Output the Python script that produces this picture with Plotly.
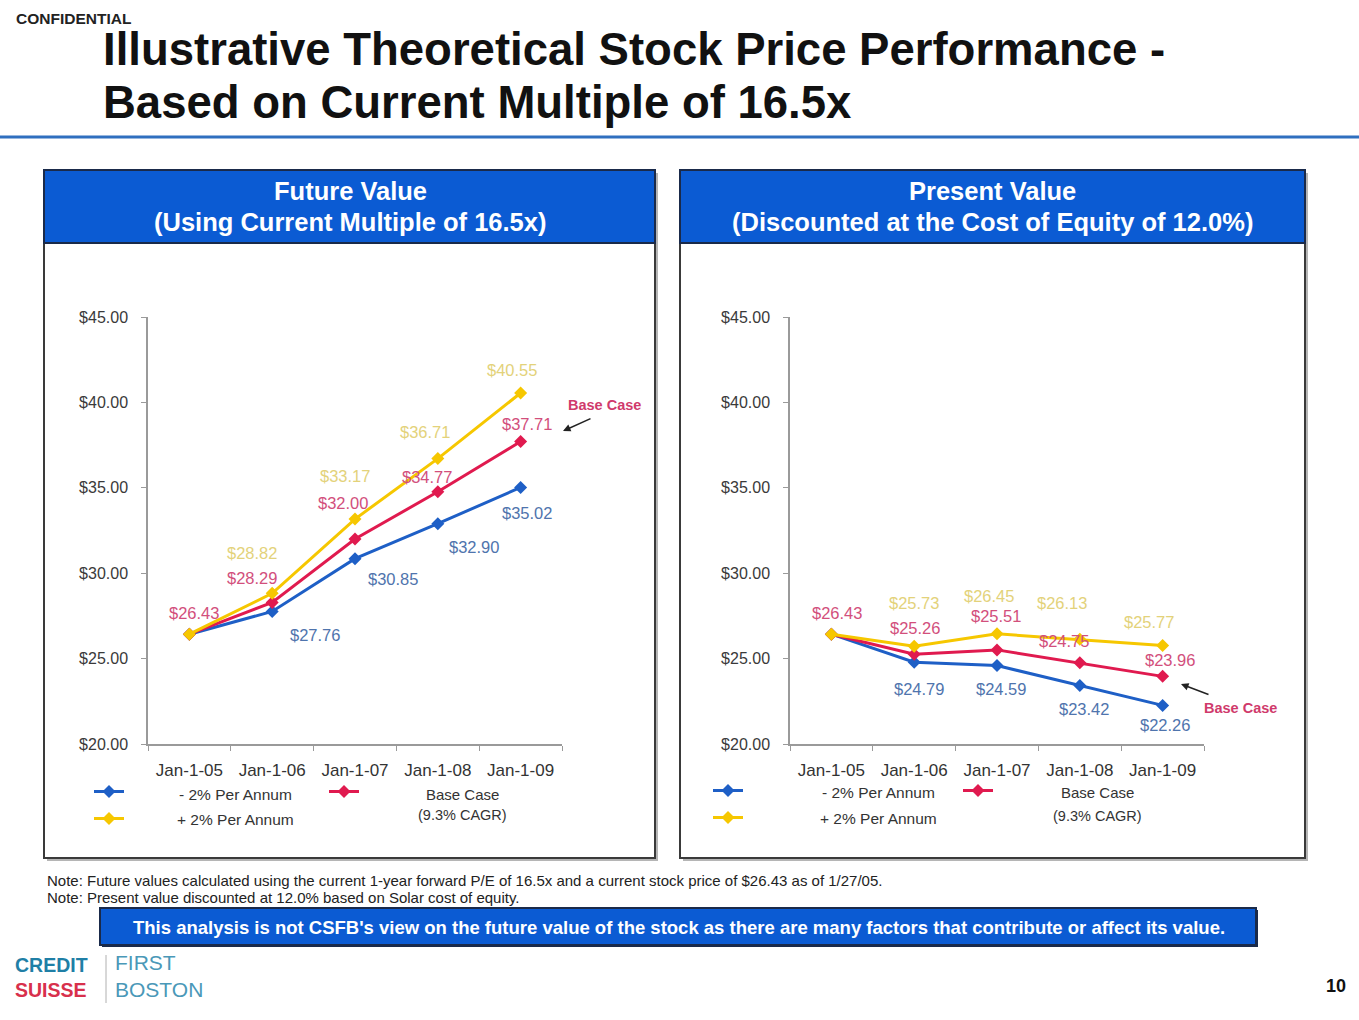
import plotly.graph_objects as go

W, H = 1359, 1020

# ---------------- data ----------------
dates = ["Jan-1-05", "Jan-1-06", "Jan-1-07", "Jan-1-08", "Jan-1-09"]

fv_minus2 = [26.43, 27.76, 30.85, 32.90, 35.02]
fv_base = [26.43, 28.29, 32.00, 34.77, 37.71]
fv_plus2 = [26.43, 28.82, 33.17, 36.71, 40.55]

pv_minus2 = [26.43, 24.79, 24.59, 23.42, 22.26]
pv_base = [26.43, 25.26, 25.51, 24.75, 23.96]
pv_plus2 = [26.43, 25.73, 26.45, 26.13, 25.77]

series_names = ["- 2% Per Annum", "Base Case", "+ 2% Per Annum"]
y_ticks = [20, 25, 30, 35, 40, 45]
y_tick_text = [f"${v:.2f}" for v in y_ticks]

# label offsets (pixels, dx right, dy down) -- styling only; None = no label
fv_off = {
    "minus": [None, (43, 24), (38, 20), (36, 23), (6, 26)],
    "base": [(5, -21), (-20, -24), (-12, -36), (-11, -15), (6, -18)],
    "plus": [None, (-20, -40), (-10, -43), (-13, -27), (-9, -23)],
}
pv_off = {
    "minus": [None, (5, 27), (4, 23), (4, 23), (2, 20)],
    "base": [(6, -21), (1, -26), (-1, -34), (-16, -22), (7, -16)],
    "plus": [None, (0, -43), (-8, -38), (-18, -36), (-14, -23)],
}

LINE = {"minus": "#1e5fc6", "base": "#e01a4f", "plus": "#f6c700"}
LBL = {"minus": "#4f74ad", "base": "#d24f7c", "plus": "#e3d27a"}
FONT = "Arial, Liberation Sans, sans-serif"


def X(px):
    return px / W


def Y(py):
    return 1 - py / H


fig = go.Figure()

panels = [
    ("x", "y", fv_minus2, fv_base, fv_plus2, fv_off, ("legend", "legend2")),
    ("x2", "y2", pv_minus2, pv_base, pv_plus2, pv_off, ("legend3", "legend4")),
]

annotations = []
for xa, ya, mn, bs, pl, offs, legs in panels:
    for key, vals, name in (("minus", mn, series_names[0]),
                            ("base", bs, series_names[1]),
                            ("plus", pl, series_names[2])):
        leg = legs[1] if key == "base" else legs[0]
        fig.add_trace(go.Scatter(
            x=dates, y=vals, xaxis=xa, yaxis=ya, mode="lines+markers",
            name=" ", legend=leg, legendgroup=xa + key,
            line=dict(color=LINE[key], width=3),
            marker=dict(symbol="diamond", size=10, color=LINE[key]),
            hovertemplate=name + ": $%{y:.2f}<extra></extra>",
        ))
        for d, v, off in zip(dates, vals, offs[key]):
            if off is None:
                continue
            annotations.append(dict(
                x=d, y=v, xref=xa, yref=ya, text=f"${v:.2f}", showarrow=False,
                xshift=off[0], yshift=-off[1],
                font=dict(family=FONT, size=16.5, color=LBL[key]),
            ))

axis_common = dict(showline=True, linecolor="#9a9a9a", linewidth=1.5,
                   ticks="outside", tickcolor="#9a9a9a", ticklen=5,
                   showgrid=False, zeroline=False, fixedrange=True,
                   automargin=False)

yax = dict(axis_common, range=[20, 45], tickvals=y_ticks, ticktext=y_tick_text,
           domain=[Y(744), Y(317)], ticklabelstandoff=10,
           tickfont=dict(family=FONT, size=16, color="#3a3a3a"))
xax = dict(axis_common, type="category", tickson="boundaries",
           range=[-0.5, 4.5], ticklabelstandoff=10,
           tickfont=dict(family=FONT, size=17, color="#333333"))

fig.update_layout(
    width=W, height=H, margin=dict(l=0, r=0, t=0, b=0, pad=0, autoexpand=False),
    paper_bgcolor="white", plot_bgcolor="rgba(0,0,0,0)",
    xaxis=dict(xax, domain=[X(148), X(562)], anchor="y"),
    yaxis=dict(yax, anchor="x"),
    xaxis2=dict(xax, domain=[X(790), X(1204)], anchor="y2"),
    yaxis2=dict(yax, anchor="x2"),
)

legend_common = dict(bgcolor="rgba(0,0,0,0)", borderwidth=0, itemwidth=30,
                     traceorder="grouped", tracegroupgap=8,
                     font=dict(family=FONT, size=12), itemclick=False,
                     itemdoubleclick=False, xanchor="left", yanchor="top")
fig.update_layout(
    legend=dict(legend_common, x=X(89), y=Y(777)),
    legend2=dict(legend_common, x=X(324), y=Y(777)),
    legend3=dict(legend_common, x=X(708), y=Y(776)),
    legend4=dict(legend_common, x=X(958), y=Y(776)),
)

shapes = []


def prect(x0, y0, x1, y1, **kw):
    shapes.append(dict(type="rect", xref="paper", yref="paper",
                       x0=X(x0), x1=X(x1), y0=Y(y1), y1=Y(y0), layer="below", **kw))


HEADER_BLUE = "#0b5bd3"
# panels with shadow
for (x0, x1) in ((44, 655), (680, 1305)):
    prect(x0 + 3, 173, x1 + 3, 861, fillcolor="#b5b5b5", line=dict(width=0))
    prect(x0, 170, x1, 858, fillcolor="white", line=dict(color="#3a3a3a", width=2))
    prect(x0, 170, x1, 243, fillcolor=HEADER_BLUE, line=dict(color="#1a2a4a", width=2))

# title rule
shapes.append(dict(type="line", xref="paper", yref="paper", x0=0, x1=1,
                   y0=Y(137), y1=Y(137), line=dict(color="#2f6fbf", width=3)))
# bottom banner
prect(102, 910, 1258, 947, fillcolor="#1a2a4a", line=dict(width=0))
prect(100, 908, 1256, 945, fillcolor=HEADER_BLUE, line=dict(color="#1a2a4a", width=2))
# logo separator
shapes.append(dict(type="line", xref="paper", yref="paper", x0=X(106), x1=X(106),
                   y0=Y(1003), y1=Y(955), line=dict(color="#b0b0b0", width=1)))


def ptext(px, py, text, size, color="#000", bold=False, anchor="center", family=FONT):
    annotations.append(dict(
        xref="paper", yref="paper", x=X(px), y=Y(py), text=f"<b>{text}</b>" if bold else text,
        showarrow=False, xanchor=anchor, yanchor="middle",
        font=dict(family=family, size=size, color=color),
    ))


ptext(14, 18, "CONFIDENTIAL", 15.5, "#222", True, "left")
ptext(101, 49, "Illustrative Theoretical Stock Price Performance -", 45.5, "#111", True, "left")
ptext(101, 103, "Based on Current Multiple of 16.5x", 45.5, "#111", True, "left")

ptext(350, 191, "Future Value", 25.5, "white", True)
ptext(350, 222, "(Using Current Multiple of 16.5x)", 25.5, "white", True)
ptext(993, 191, "Present Value", 25.5, "white", True)
ptext(993, 222, "(Discounted at the Cost of Equity of 12.0%)", 25.5, "white", True)

# legend texts
for cx, cy_a, cy_b, bx, cy_c in ((235, 794, 819, 462, 815), (878, 792, 818, 1097, 816)):
    ptext(cx, cy_a, "- 2% Per Annum", 15.5, "#333")
    ptext(cx, cy_b, "+ 2% Per Annum", 15.5, "#333")
    ptext(bx, cy_a, "Base Case", 15, "#333")
    ptext(bx, cy_c, "(9.3% CAGR)", 14.5, "#333")

# Base Case callouts
ptext(604, 405, "Base Case", 14.5, "#d03a6c", True)
annotations.append(dict(xref="paper", yref="paper", x=X(563), y=Y(431),
                        ax=29, ay=-13, axref="pixel", ayref="pixel",
                        showarrow=True, arrowhead=2, arrowsize=1, arrowwidth=1.5,
                        arrowcolor="#222", text=""))
ptext(1240, 708, "Base Case", 14.5, "#d03a6c", True)
annotations.append(dict(xref="paper", yref="paper", x=X(1181), y=Y(684),
                        ax=29, ay=11, axref="pixel", ayref="pixel",
                        showarrow=True, arrowhead=2, arrowsize=1, arrowwidth=1.5,
                        arrowcolor="#222", text=""))

# notes
ptext(45, 880, "Note: Future values calculated using the current 1-year forward P/E of 16.5x "
      "and a current stock price of $26.43 as of 1/27/05.", 15, "#222", False, "left")
ptext(45, 897, "Note: Present value discounted at 12.0% based on Solar cost of equity.",
      15, "#222", False, "left")
ptext(679, 927, "This analysis is not CSFB's view on the future value of the stock as there "
      "are many factors that contribute or affect its value.", 18.5, "white", True)

# logo and page number
annotations.append(dict(
    xref="paper", yref="paper", x=X(13), y=Y(977), xanchor="left", yanchor="middle",
    showarrow=False, align="left",
    text="<b><span style='color:#1f7fa6'>CREDIT</span><br>"
         "<span style='color:#d8304c'>SUISSE</span></b>",
    font=dict(family=FONT, size=19.5, color="#1f7fa6"),
))
annotations.append(dict(
    xref="paper", yref="paper", x=X(113), y=Y(976), xanchor="left", yanchor="middle",
    showarrow=False, align="left", text="FIRST<br>BOSTON",
    font=dict(family=FONT, size=21, color="#4a98b8"),
))
ptext(1336, 986, "10", 18, "#111", True)

fig.update_layout(annotations=annotations, shapes=shapes)

fig.write_html("out.html")
